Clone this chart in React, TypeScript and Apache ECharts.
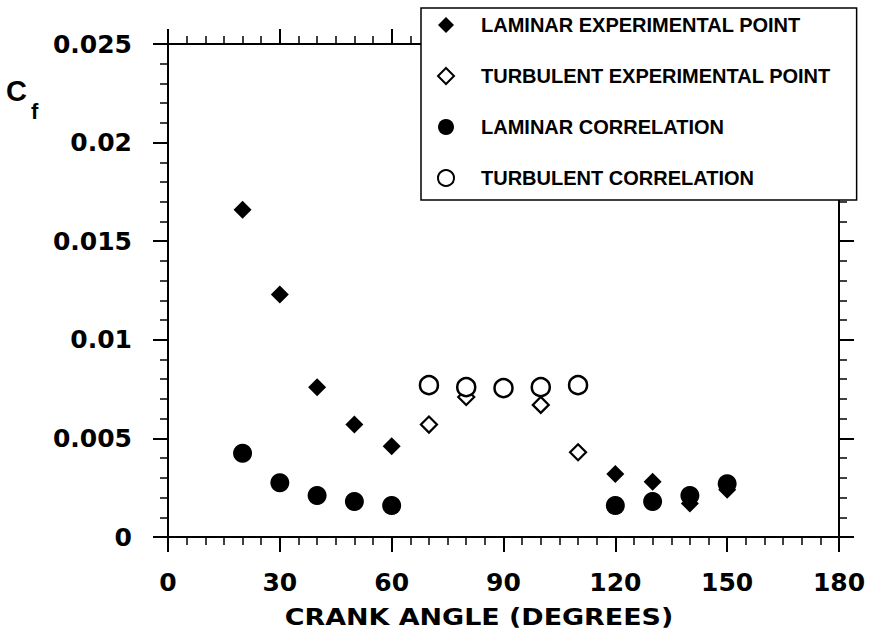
import React, { useEffect, useRef } from "react";
import * as echarts from "echarts";

const legendNames = [
  "LAMINAR EXPERIMENTAL POINT",
  "TURBULENT EXPERIMENTAL POINT",
  "LAMINAR CORRELATION",
  "TURBULENT CORRELATION",
];

const xAxisTitle = "CRANK ANGLE (DEGREES)";

const laminarExpAngle = [20, 30, 40, 50, 60, 120, 130, 140, 150];
const laminarExpCf = [0.0166, 0.0123, 0.0076, 0.0057, 0.0046, 0.0032, 0.0028, 0.0017, 0.0024];

const turbulentExpAngle = [70, 80, 100, 110];
const turbulentExpCf = [0.0057, 0.0071, 0.0067, 0.0043];

const laminarCorrAngle = [20, 30, 40, 50, 60, 120, 130, 140, 150];
const laminarCorrCf = [0.00425, 0.00275, 0.0021, 0.0018, 0.0016, 0.0016, 0.0018, 0.0021, 0.0027];

const turbulentCorrAngle = [70, 80, 90, 100, 110];
const turbulentCorrCf = [0.0077, 0.0076, 0.00755, 0.0076, 0.0077];

const xMin = 0;
const xMax = 180;
const xStep = 30;
const yMin = 0;
const yMax = 0.025;
const yStep = 0.005;

const pairs = (xs: number[], ys: number[]) => xs.map((x, i) => [x, ys[i]]);

const FONT = "DejaVu Sans";

export default function App() {
  const ref = useRef<HTMLDivElement>(null);
  useEffect(() => {
    if (!ref.current) return;
    const chart = echarts.init(ref.current, null, { renderer: "svg" });
    const line = { show: true, onZero: false, lineStyle: { color: "#000", width: 2 } };
    const tick = { show: true, length: 15, lineStyle: { color: "#000", width: 2 } };
    const minor = (n: number) => ({ show: true, splitNumber: n, length: 8, lineStyle: { color: "#000", width: 1.5 } });
    const label = { fontFamily: FONT, fontWeight: "bold" as const, fontSize: 25, color: "#000" };
    const xBase = { type: "value" as const, min: xMin, max: xMax, interval: xStep, splitLine: { show: false }, axisLine: line, axisTick: tick, minorTick: minor(6) };
    const yBase = { type: "value" as const, min: yMin, max: yMax, interval: yStep, splitLine: { show: false }, axisLine: line, axisTick: tick, minorTick: minor(5) };
    chart.setOption({
      animation: false,
      backgroundColor: "#fff",
      grid: { left: 168, right: 31, top: 44, bottom: 97 },
      xAxis: [
        {
          ...xBase,
          position: "bottom",
          axisLabel: { ...label, margin: 33 },
        },
        { ...xBase, position: "top", axisLabel: { show: false } },
      ],
      yAxis: [
        {
          ...yBase,
          position: "left",
          axisLabel: { ...label, margin: 36, formatter: (v: number) => String(+v.toFixed(3)) },
        },
        { ...yBase, position: "right", axisLabel: { show: false } },
      ],
      legend: {
        data: legendNames,
        orient: "vertical",
        left: 421,
        top: 8,
        backgroundColor: "#fff",
        borderColor: "#000",
        borderWidth: 1.5,
        padding: [7, 26, 12, 16],
        itemGap: 31,
        itemWidth: 16,
        itemHeight: 16,
        textStyle: { fontFamily: "Liberation Sans", fontWeight: "bold", fontSize: 20, color: "#000", padding: [0, 0, 0, 22] },
      },
      graphic: [
        { type: "text", left: 6, top: 76, style: { text: "C", font: "bold 29px 'Liberation Sans'", fill: "#000" } },
        { type: "text", left: 31, top: 100, style: { text: "f", font: "bold 22px 'Liberation Sans'", fill: "#000" } },
        {
          type: "text",
          x: 479,
          y: 617,
          scaleX: 1.17,
          style: { text: xAxisTitle, font: "bold 23px 'DejaVu Sans'", fill: "#000", align: "center", verticalAlign: "middle" },
        },
      ],
      series: [
        {
          name: legendNames[0],
          type: "scatter",
          symbol: "diamond",
          symbolSize: 18,
          itemStyle: { color: "#000", borderColor: "#000", borderWidth: 0, opacity: 1 },
          data: pairs(laminarExpAngle, laminarExpCf),
        },
        {
          name: legendNames[1],
          type: "scatter",
          symbol: "diamond",
          symbolSize: 16,
          itemStyle: { color: "#fff", borderColor: "#000", borderWidth: 2.2, opacity: 1 },
          data: pairs(turbulentExpAngle, turbulentExpCf),
        },
        {
          name: legendNames[2],
          type: "scatter",
          symbol: "circle",
          symbolSize: 19,
          itemStyle: { color: "#000", borderColor: "#000", borderWidth: 0, opacity: 1 },
          data: pairs(laminarCorrAngle, laminarCorrCf),
        },
        {
          name: legendNames[3],
          type: "scatter",
          symbol: "circle",
          symbolSize: 18,
          itemStyle: { color: "#fff", borderColor: "#000", borderWidth: 2.5, opacity: 1 },
          data: pairs(turbulentCorrAngle, turbulentCorrCf),
        },
      ],
    });
    return () => chart.dispose();
  }, []);
  return <div ref={ref} style={{ position: "fixed", left: 0, top: 0, width: 870, height: 634, background: "#fff" }} />;
}
